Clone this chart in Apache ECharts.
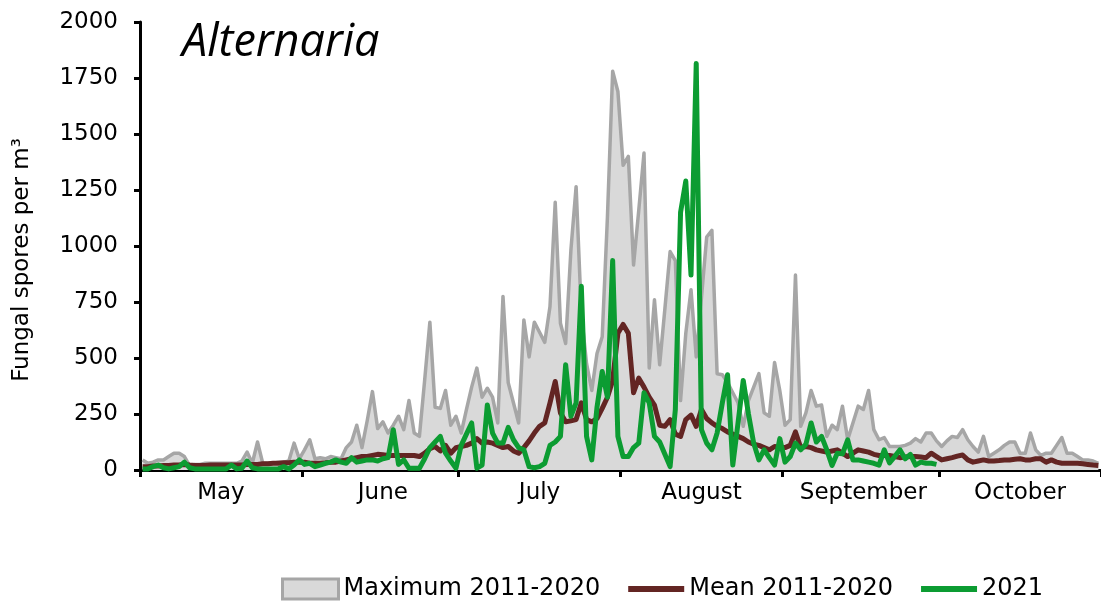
<!DOCTYPE html>
<html>
<head>
<meta charset="utf-8">
<script src="https://cdn.jsdelivr.net/npm/echarts@6/dist/echarts.min.js"></script>
<style>
  html, body { margin: 0; padding: 0; background: #fff; }
  #chart { width: 1101px; height: 602px; }
</style>
</head>
<body>
<div id="chart"></div>
<script>
// months shown on the x axis, one category per day (1 May - 31 Oct)
const months = ['May', 'June', 'July', 'August', 'September', 'October']
const monthDays = [31, 30, 31, 31, 30, 31]

// y axis ticks
const yMin = 0
const yMax = 2000
const yStep = 250

// Maximum 2011-2020 (daily)
const maxValues = [
  45, 30, 35, 45, 45, 60, 75, 75, 60, 20,
  25, 25, 30, 30, 30, 30, 30, 30, 30, 40,
  80, 30, 125, 30, 30, 30, 35, 35, 40, 120,
  50, 90, 135, 50, 55, 50, 60, 55, 50, 100,
  125, 200, 100, 220, 350, 185, 215, 165, 200, 240,
  180, 310, 165, 150, 400, 660, 280, 275, 355, 200,
  240, 165, 270, 370, 455, 325, 365, 325, 210, 775,
  390, 300, 210, 670, 505, 660, 615, 570, 730, 1195,
  655, 565, 980, 1265, 700, 475, 355, 520, 595, 1130,
  1780, 1690, 1360, 1400, 915, 1160, 1415, 455, 760, 470,
  720, 975, 935, 310, 610, 805, 505, 770, 1040, 1070,
  430, 425, 390, 345, 300, 195, 310, 370, 430, 255,
  240, 480, 355, 200, 225, 870, 195, 255, 355, 285,
  290, 150, 200, 180, 285, 135, 210, 285, 270, 355,
  180, 135, 145, 105, 105, 105, 110, 120, 140, 125,
  165, 165, 130, 105, 130, 150, 145, 180, 135, 105,
  80, 150, 60, 75, 90, 110, 125, 125, 75, 75,
  165, 90, 65, 75, 75, 110, 145, 75, 75, 60,
  45, 45, 40, 30
]

// Mean 2011-2020 (daily)
const meanValues = [
  15, 15, 18, 18, 20, 20, 22, 22, 25, 22,
  20, 20, 20, 22, 22, 22, 22, 22, 22, 22,
  25, 25, 25, 28, 28, 30, 30, 32, 32, 35,
  35, 35, 30, 30, 30, 32, 35, 35, 40, 45,
  50, 55, 60, 60, 65, 70, 68, 65, 65, 65,
  65, 65, 65, 60, 75, 95, 105, 85, 110, 75,
  100, 105, 110, 120, 140, 120, 125, 120, 110, 100,
  105, 85, 75, 100, 130, 165, 195, 210, 300, 395,
  255, 215, 220, 225, 300, 225, 215, 230, 275, 325,
  400, 610, 650, 610, 345, 410, 370, 325, 290, 200,
  195, 225, 160, 150, 225, 245, 195, 270, 230, 210,
  195, 185, 170, 160, 150, 140, 125, 115, 110, 100,
  90, 105, 100, 100, 110, 170, 100, 105, 100, 90,
  85, 80, 85, 90, 75, 60, 75, 90, 85, 80,
  70, 65, 65, 65, 60, 55, 58, 60, 60, 58,
  55, 75, 60, 45, 50, 55, 62, 67, 45, 35,
  40, 45, 40, 40, 42, 45, 45, 48, 50, 45,
  45, 50, 50, 35, 45, 35, 30, 30, 30, 30,
  28, 25, 22, 20
]

// 2021 (daily, 1 May - 30 Sep)
const values2021 = [
  5, 5, 15, 22, 10, 5, 10, 15, 35, 10,
  5, 5, 5, 5, 5, 5, 5, 22, 5, 8,
  40, 10, 5, 5, 5, 5, 5, 15, 5, 22,
  45, 25, 30, 15, 22, 30, 35, 45, 35, 30,
  55, 35, 40, 45, 45, 40, 50, 55, 180, 25,
  45, 8, 8, 8, 50, 100, 125, 150, 75, 40,
  8, 110, 160, 210, 8, 22, 290, 165, 120, 120,
  190, 135, 100, 90, 15, 10, 15, 30, 110, 125,
  150, 470, 240, 300, 820, 150, 45, 280, 440, 325,
  935, 150, 60, 60, 100, 120, 345, 300, 150, 125,
  70, 15, 270, 1150, 1290, 870, 1815, 180, 120, 90,
  165, 300, 425, 22, 210, 400, 250, 120, 45, 90,
  55, 22, 140, 35, 60, 120, 90, 115, 210, 125,
  150, 90, 20, 75, 72, 135, 45, 45, 40, 35,
  30, 22, 90, 32, 60, 90, 50, 70, 22, 35,
  30, 30, 25
]

// build day categories + month boundaries
const days = []
const monthStarts = []
const labelIdx = []
months.forEach((m, k) => {
  monthStarts.push(days.length)
  labelIdx.push(days.length + Math.floor(monthDays[k] / 2))
  for (let d = 1; d <= monthDays[k]; d++) {
    days.push(m + ' ' + d)
  }
})

const font = 'DejaVu Sans'
// flat bar used as legend icon for the two line series
const lineIcon = 'path://M0 0H56V6H0Z'

const option = {
  animation: false,
  backgroundColor: '#fff',
  title: {
    text: 'Alternaria',
    left: 177,
    top: 16,
    textStyle: {
      fontFamily: 'Open Sans',
      fontStyle: 'italic',
      fontWeight: 'normal',
      fontSize: 45,
      color: '#000'
    }
  },
  legend: {
    left: 276,
    top: 572,
    itemWidth: 56,
    itemHeight: 20,
    itemGap: 28,
    textStyle: { fontFamily: font, fontSize: 24, color: '#000' },
    data: [
      { name: 'Maximum 2011-2020', icon: 'rect', itemStyle: { color: '#d9d9d9', borderColor: '#a6a6a6', borderWidth: 3 } },
      { name: 'Mean 2011-2020', icon: lineIcon, itemStyle: { color: '#632523', borderWidth: 0 } },
      { name: '2021', icon: lineIcon, itemStyle: { color: '#0c9c32', borderWidth: 0 } }
    ]
  },
  grid: {
    left: 140,
    right: 0,
    top: 22,
    bottom: 132,
    outerBoundsMode: 'none'
  },
  xAxis: {
    type: 'category',
    data: days,
    boundaryGap: true,
    axisLine: { show: true, lineStyle: { color: '#000', width: 3 } },
    axisTick: {
      show: true,
      interval: (i) => monthStarts.includes(i),
      length: 7,
      lineStyle: { color: '#000', width: 3 }
    },
    axisLabel: {
      interval: (i) => labelIdx.includes(i),
      formatter: (val) => val.split(' ')[0],
      margin: 12,
      fontFamily: font,
      fontSize: 23,
      color: '#000'
    },
    splitLine: { show: false }
  },
  yAxis: {
    type: 'value',
    min: yMin,
    max: yMax,
    interval: yStep,
    name: 'Fungal spores per m³',
    nameLocation: 'middle',
    nameGap: 106,
    nameRotate: 90,
    nameTextStyle: { fontFamily: font, fontSize: 23, color: '#000', padding: [0, 28, 0, 0] },
    axisLine: { show: true, lineStyle: { color: '#000', width: 3 } },
    axisTick: { show: true, length: 6, lineStyle: { color: '#000', width: 3 } },
    axisLabel: {
      margin: 22,
      fontFamily: font,
      fontSize: 23,
      color: '#000',
      formatter: (v) => String(v)
    },
    splitLine: { show: false }
  },
  series: [
    {
      name: 'Maximum 2011-2020',
      type: 'line',
      data: maxValues,
      symbol: 'none',
      itemStyle: { color: '#a6a6a6' },
      lineStyle: { color: '#a6a6a6', width: 3.5, join: 'round' },
      areaStyle: { color: '#d9d9d9', opacity: 1 },
      z: 1
    },
    {
      name: 'Mean 2011-2020',
      type: 'line',
      data: meanValues,
      symbol: 'none',
      itemStyle: { color: '#632523' },
      lineStyle: { color: '#632523', width: 5, join: 'round' },
      z: 2
    },
    {
      name: '2021',
      type: 'line',
      data: values2021,
      symbol: 'none',
      itemStyle: { color: '#0c9c32' },
      lineStyle: { color: '#0c9c32', width: 5, join: 'round' },
      z: 3
    }
  ]
}

const myChart = echarts.init(document.getElementById('chart'))
myChart.setOption(option)
</script>
</body>
</html>
